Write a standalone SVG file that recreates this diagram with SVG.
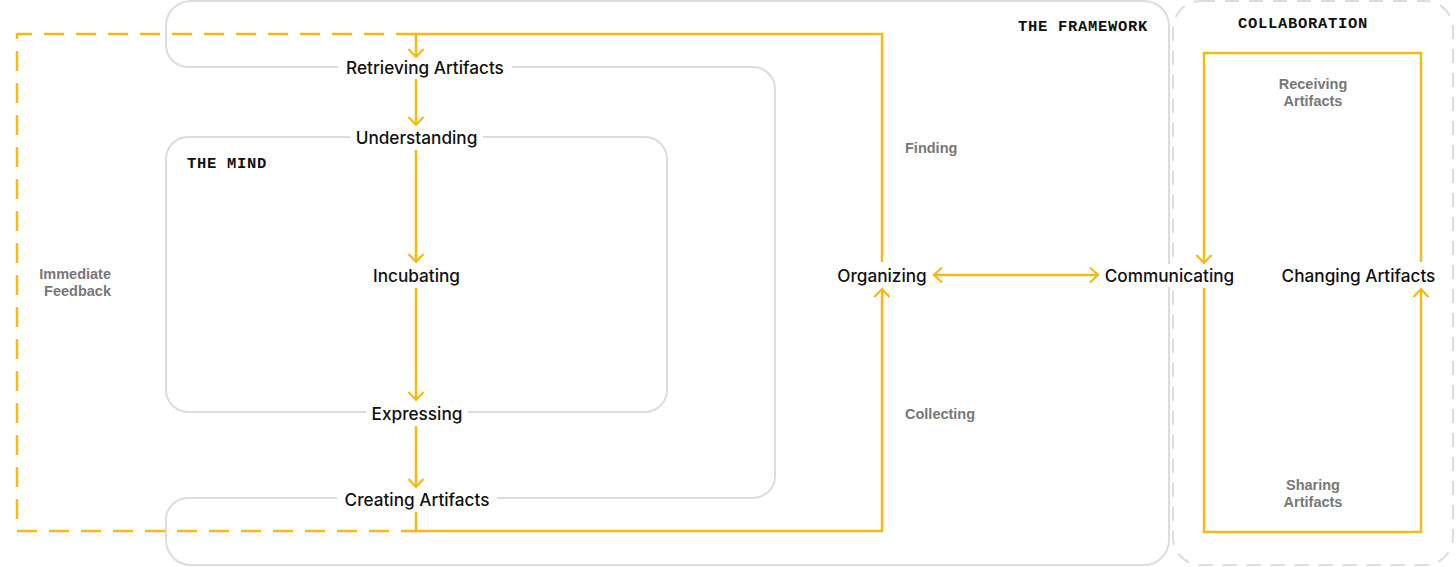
<svg xmlns="http://www.w3.org/2000/svg" width="1456" height="567" viewBox="0 0 1456 567">
<style>
.box{fill:none;stroke:#dcdcdc;stroke-width:2}
.dbox{fill:none;stroke:#dcdcdc;stroke-width:2;stroke-dasharray:14 10}
.y{fill:none;stroke:#F6BA12;stroke-width:2.5}
.yd{fill:none;stroke:#F6BA12;stroke-width:2.5;stroke-dasharray:20 12}
.n{font-family:Inter,"Liberation Sans",Arial,sans-serif;font-size:17.2px;font-weight:500;fill:#111;text-anchor:middle;dominant-baseline:central}
.t{font-family:"Liberation Mono","DejaVu Sans Mono",monospace;font-size:15.5px;font-weight:bold;fill:#111;letter-spacing:0.7px}
.g{font-family:"Liberation Sans",Arial,sans-serif;font-size:14.5px;font-weight:bold;fill:#777}
.bg{fill:#fff}
</style>
<defs>
<marker id="arr" viewBox="-10 -10 12 20" refX="0" refY="0" markerWidth="12" markerHeight="20" markerUnits="userSpaceOnUse" orient="auto-start-reverse">
<path d="M-8,-7.5 L0,0 L-8,7.5" fill="none" stroke="#F6BA12" stroke-width="2.2"/>
</marker>
</defs>
<rect width="1456" height="567" fill="#fff"/>

<g id="framework">
<path class="box" d="M191,1 H1144 A25,25 0 0 1 1169,26 V540 A25,25 0 0 1 1144,565 H191 A25,25 0 0 1 166,540 V520 A22,22 0 0 1 188,498 H753 A22,22 0 0 0 775,476 V89 A22,22 0 0 0 753,67 H188 A22,22 0 0 1 166,45 V26 A25,25 0 0 1 191,1 Z"/>
<text class="t" x="1148" y="31" text-anchor="end">THE FRAMEWORK</text>
</g>
<g id="mind">
<rect class="box" x="166" y="137" width="501" height="275" rx="22"/>
<text class="t" x="187" y="168">THE MIND</text>
</g>
<g id="collaboration">
<rect class="dbox" x="1173" y="1" width="280" height="564" rx="28"/>
<text class="t" x="1303" y="28" text-anchor="middle">COLLABORATION</text>
</g>

<g id="connectors">
<path class="yd" d="M416,34 H17 V531 H416"/>
<path class="y" d="M882,262 V34 H416 V57" marker-end="url(#arr)"/>
<path class="y" d="M416,512 V531 H882 V289" marker-end="url(#arr)"/>
<path class="y" d="M416,79 V125" marker-end="url(#arr)"/>
<path class="y" d="M416,150 V262" marker-end="url(#arr)"/>
<path class="y" d="M416,288 V400" marker-end="url(#arr)"/>
<path class="y" d="M416,426 V487" marker-end="url(#arr)"/>
<path class="y" d="M934,275 H1098" marker-start="url(#arr)" marker-end="url(#arr)"/>
<path class="y" d="M1421,262 V53 H1204 V263" marker-end="url(#arr)"/>
<path class="y" d="M1204,288 V532 H1421 V289" marker-end="url(#arr)"/>
</g>

<g id="retrieving"><rect class="bg" x="338" y="58" width="174" height="20"/><text class="n" x="425" y="67">Retrieving Artifacts</text></g>
<g id="understanding"><rect class="bg" x="350" y="127" width="133" height="21"/><text class="n" x="416.5" y="137">Understanding</text></g>
<g id="incubating"><text class="n" x="416.5" y="275">Incubating</text></g>
<g id="expressing"><rect class="bg" x="366" y="402" width="102" height="21"/><text class="n" x="417" y="413">Expressing</text></g>
<g id="creating"><rect class="bg" x="337" y="489" width="160" height="20"/><text class="n" x="417" y="499">Creating Artifacts</text></g>
<g id="organizing"><text class="n" x="882" y="275">Organizing</text></g>
<g id="communicating"><rect class="bg" x="1100" y="264" width="140" height="23"/><text class="n" x="1169.5" y="275">Communicating</text></g>
<g id="changing"><text class="n" x="1358.5" y="275">Changing Artifacts</text></g>

<g id="labels">
<text class="g" x="111" y="279" text-anchor="end">Immediate</text>
<text class="g" x="111" y="296" text-anchor="end">Feedback</text>
<text class="g" x="905" y="153">Finding</text>
<text class="g" x="905" y="419">Collecting</text>
<text class="g" x="1313" y="89" text-anchor="middle">Receiving</text>
<text class="g" x="1313" y="106" text-anchor="middle">Artifacts</text>
<text class="g" x="1313" y="490" text-anchor="middle">Sharing</text>
<text class="g" x="1313" y="507" text-anchor="middle">Artifacts</text>
</g>
</svg>
